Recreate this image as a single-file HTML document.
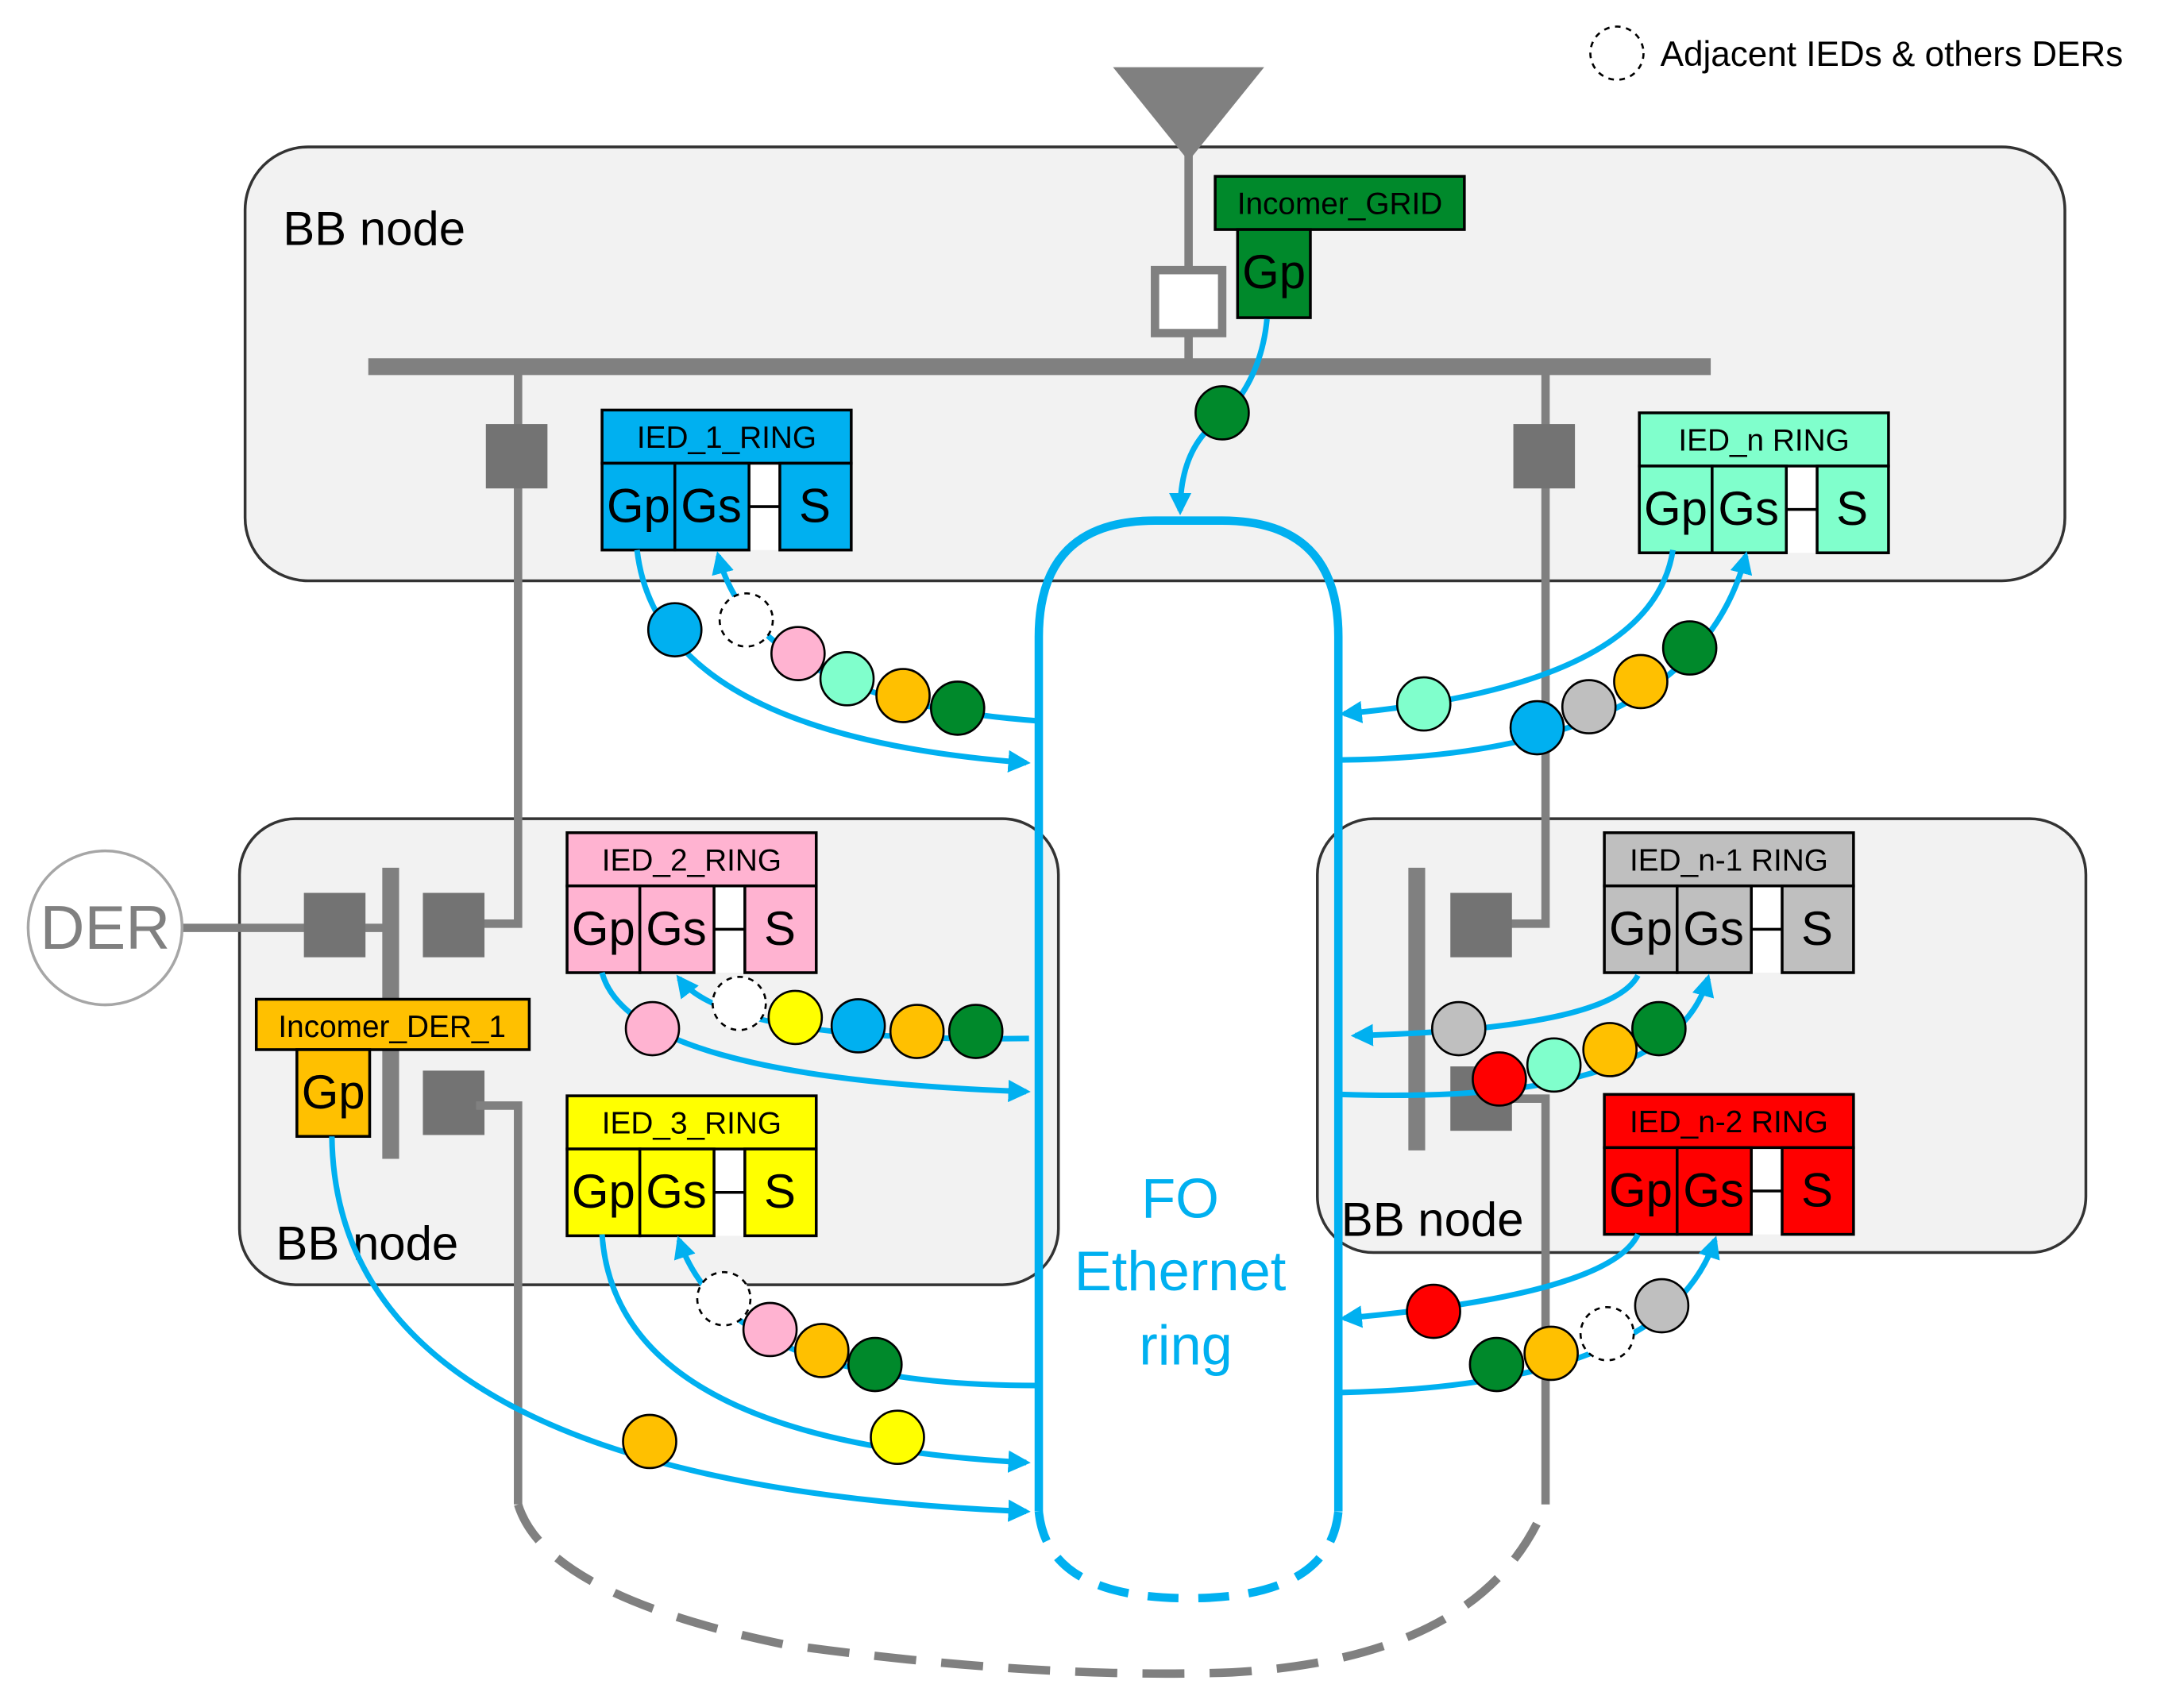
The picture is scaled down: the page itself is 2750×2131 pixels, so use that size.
<!DOCTYPE html>
<html><head><meta charset="utf-8"><style>
html,body{margin:0;padding:0;background:#fff;}
svg{display:block;}
text{font-family:"Liberation Sans",Arial,sans-serif;}
</style></head><body>
<svg width="2750" height="2131" viewBox="0 0 1560 1209" xmlns="http://www.w3.org/2000/svg">
<defs>
<marker id="a" viewBox="0 0 10 10" refX="8" refY="5" markerWidth="4" markerHeight="4" orient="auto"><path d="M0,0 L10,5 L0,10 z" fill="#00b0f0"/></marker>
</defs>
<rect width="1560" height="1209" fill="#fff"/>
<circle cx="1155" cy="38" r="19" fill="#fff" stroke="#000" stroke-width="1.5" stroke-dasharray="4,4"/>
<text x="1186" y="47" font-size="25" fill="#000">Adjacent IEDs &amp; others DERs</text>
<rect x="175" y="105" width="1300" height="310" rx="45" fill="#f2f2f2" stroke="#333" stroke-width="2"/>
<rect x="171" y="585" width="585" height="333" rx="40" fill="#f2f2f2" stroke="#333" stroke-width="2"/>
<rect x="941" y="585" width="549" height="310" rx="40" fill="#f2f2f2" stroke="#333" stroke-width="2"/>
<text x="202" y="175" font-size="34">BB node</text>
<text x="197" y="900" font-size="34">BB node</text>
<text x="958" y="883" font-size="34">BB node</text>
<polygon points="795,48 903,48 849,115" fill="#808080"/>
<line x1="849" y1="110" x2="849" y2="262" stroke="#808080" stroke-width="6"/>
<rect x="825" y="193" width="48" height="45" fill="#fff" stroke="#808080" stroke-width="6"/>
<line x1="263" y1="262" x2="1222" y2="262" stroke="#808080" stroke-width="12"/>
<polyline points="370,262 370,660 340,660" fill="none" stroke="#808080" stroke-width="6"/>
<polyline points="1104,262 1104,660 1075,660" fill="none" stroke="#808080" stroke-width="6"/>
<rect x="347" y="303" width="44" height="46" fill="#737373"/>
<rect x="1081" y="303" width="44" height="46" fill="#737373"/>
<line x1="130" y1="663" x2="279" y2="663" stroke="#808080" stroke-width="6"/>
<line x1="279" y1="620" x2="279" y2="828" stroke="#808080" stroke-width="12"/>
<rect x="217" y="638" width="44" height="46" fill="#737373"/>
<rect x="302" y="638" width="44" height="46" fill="#737373"/>
<rect x="302" y="765" width="44" height="46" fill="#737373"/>
<polyline points="340,790 370,790 370,1075" fill="none" stroke="#808080" stroke-width="6"/>
<path d="M370,1075 Q390,1140 560,1175 Q740,1200 880,1195 Q1060,1185 1104,1075" fill="none" stroke="#808080" stroke-width="6" stroke-dasharray="30,18"/>
<line x1="1012" y1="620" x2="1012" y2="822" stroke="#808080" stroke-width="12"/>
<rect x="1036" y="638" width="44" height="46" fill="#737373"/>
<rect x="1036" y="762" width="44" height="46" fill="#737373"/>
<polyline points="1075,785 1104,785 1104,1075" fill="none" stroke="#808080" stroke-width="6"/>
<circle cx="75" cy="663" r="55" fill="#fff" stroke="#a6a6a6" stroke-width="2"/>
<text x="75" y="678" font-size="44" fill="#808080" text-anchor="middle">DER</text>
<path d="M742,1080 V455 Q742,372 825,372 H873 Q956,372 956,455 V1080" fill="none" stroke="#00b0f0" stroke-width="6"/>
<path d="M742,1080 Q748,1142 849,1142 Q950,1142 956,1080" fill="none" stroke="#00b0f0" stroke-width="6" stroke-dasharray="22,14"/>
<text x="843" y="870" font-size="40" fill="#00b0f0" text-anchor="middle">FO</text>
<text x="843" y="922" font-size="40" fill="#00b0f0" text-anchor="middle">Ethernet</text>
<text x="847" y="975" font-size="40" fill="#00b0f0" text-anchor="middle">ring</text>
<g stroke="#000" stroke-width="2">
<rect x="868" y="126" width="178" height="38" fill="#00892b"/>
<rect x="884" y="164" width="52" height="63" fill="#00892b"/>
</g>
<text x="957" y="153" font-size="22" text-anchor="middle">Incomer_GRID</text>
<text x="910" y="206" font-size="34" text-anchor="middle">Gp</text>
<g stroke="#000" stroke-width="2">
<rect x="183" y="714" width="195" height="36" fill="#ffc000"/>
<rect x="212" y="750" width="52" height="62" fill="#ffc000"/>
</g>
<text x="280" y="741" font-size="22" text-anchor="middle">Incomer_DER_1</text>
<text x="238" y="792" font-size="34" text-anchor="middle">Gp</text>

<g transform="translate(430,293)">
<rect x="105" y="38" width="22" height="62" fill="#fff"/>
<rect x="0" y="0" width="178" height="38" fill="#00b0f0" stroke="#000" stroke-width="2"/>
<rect x="0" y="38" width="52" height="62" fill="#00b0f0" stroke="#000" stroke-width="2"/>
<rect x="52" y="38" width="53" height="62" fill="#00b0f0" stroke="#000" stroke-width="2"/>
<line x1="105" y1="69" x2="127" y2="69" stroke="#000" stroke-width="2"/>
<rect x="127" y="38" width="51" height="62" fill="#00b0f0" stroke="#000" stroke-width="2"/>
<text x="89" y="27" font-size="22" text-anchor="middle">IED_1_RING</text>
<text x="26" y="80" font-size="34" text-anchor="middle">Gp</text>
<text x="78" y="80" font-size="34" text-anchor="middle">Gs</text>
<text x="152" y="80" font-size="34" text-anchor="middle">S</text>
</g>
<g transform="translate(1171,295)">
<rect x="105" y="38" width="22" height="62" fill="#fff"/>
<rect x="0" y="0" width="178" height="38" fill="#80ffcc" stroke="#000" stroke-width="2"/>
<rect x="0" y="38" width="52" height="62" fill="#80ffcc" stroke="#000" stroke-width="2"/>
<rect x="52" y="38" width="53" height="62" fill="#80ffcc" stroke="#000" stroke-width="2"/>
<line x1="105" y1="69" x2="127" y2="69" stroke="#000" stroke-width="2"/>
<rect x="127" y="38" width="51" height="62" fill="#80ffcc" stroke="#000" stroke-width="2"/>
<text x="89" y="27" font-size="22" text-anchor="middle">IED_n RING</text>
<text x="26" y="80" font-size="34" text-anchor="middle">Gp</text>
<text x="78" y="80" font-size="34" text-anchor="middle">Gs</text>
<text x="152" y="80" font-size="34" text-anchor="middle">S</text>
</g>
<g transform="translate(405,595)">
<rect x="105" y="38" width="22" height="62" fill="#fff"/>
<rect x="0" y="0" width="178" height="38" fill="#ffb3d1" stroke="#000" stroke-width="2"/>
<rect x="0" y="38" width="52" height="62" fill="#ffb3d1" stroke="#000" stroke-width="2"/>
<rect x="52" y="38" width="53" height="62" fill="#ffb3d1" stroke="#000" stroke-width="2"/>
<line x1="105" y1="69" x2="127" y2="69" stroke="#000" stroke-width="2"/>
<rect x="127" y="38" width="51" height="62" fill="#ffb3d1" stroke="#000" stroke-width="2"/>
<text x="89" y="27" font-size="22" text-anchor="middle">IED_2_RING</text>
<text x="26" y="80" font-size="34" text-anchor="middle">Gp</text>
<text x="78" y="80" font-size="34" text-anchor="middle">Gs</text>
<text x="152" y="80" font-size="34" text-anchor="middle">S</text>
</g>
<g transform="translate(405,783)">
<rect x="105" y="38" width="22" height="62" fill="#fff"/>
<rect x="0" y="0" width="178" height="38" fill="#ffff00" stroke="#000" stroke-width="2"/>
<rect x="0" y="38" width="52" height="62" fill="#ffff00" stroke="#000" stroke-width="2"/>
<rect x="52" y="38" width="53" height="62" fill="#ffff00" stroke="#000" stroke-width="2"/>
<line x1="105" y1="69" x2="127" y2="69" stroke="#000" stroke-width="2"/>
<rect x="127" y="38" width="51" height="62" fill="#ffff00" stroke="#000" stroke-width="2"/>
<text x="89" y="27" font-size="22" text-anchor="middle">IED_3_RING</text>
<text x="26" y="80" font-size="34" text-anchor="middle">Gp</text>
<text x="78" y="80" font-size="34" text-anchor="middle">Gs</text>
<text x="152" y="80" font-size="34" text-anchor="middle">S</text>
</g>
<g transform="translate(1146,595)">
<rect x="105" y="38" width="22" height="62" fill="#fff"/>
<rect x="0" y="0" width="178" height="38" fill="#bfbfbf" stroke="#000" stroke-width="2"/>
<rect x="0" y="38" width="52" height="62" fill="#bfbfbf" stroke="#000" stroke-width="2"/>
<rect x="52" y="38" width="53" height="62" fill="#bfbfbf" stroke="#000" stroke-width="2"/>
<line x1="105" y1="69" x2="127" y2="69" stroke="#000" stroke-width="2"/>
<rect x="127" y="38" width="51" height="62" fill="#bfbfbf" stroke="#000" stroke-width="2"/>
<text x="89" y="27" font-size="22" text-anchor="middle">IED_n-1 RING</text>
<text x="26" y="80" font-size="34" text-anchor="middle">Gp</text>
<text x="78" y="80" font-size="34" text-anchor="middle">Gs</text>
<text x="152" y="80" font-size="34" text-anchor="middle">S</text>
</g>
<g transform="translate(1146,782)">
<rect x="105" y="38" width="22" height="62" fill="#fff"/>
<rect x="0" y="0" width="178" height="38" fill="#ff0000" stroke="#000" stroke-width="2"/>
<rect x="0" y="38" width="52" height="62" fill="#ff0000" stroke="#000" stroke-width="2"/>
<rect x="52" y="38" width="53" height="62" fill="#ff0000" stroke="#000" stroke-width="2"/>
<line x1="105" y1="69" x2="127" y2="69" stroke="#000" stroke-width="2"/>
<rect x="127" y="38" width="51" height="62" fill="#ff0000" stroke="#000" stroke-width="2"/>
<text x="89" y="27" font-size="22" text-anchor="middle">IED_n-2 RING</text>
<text x="26" y="80" font-size="34" text-anchor="middle">Gp</text>
<text x="78" y="80" font-size="34" text-anchor="middle">Gs</text>
<text x="152" y="80" font-size="34" text-anchor="middle">S</text>
</g>
<g fill="none" stroke="#00b0f0" stroke-width="4" marker-end="url(#a)">
<path d="M905,228 Q900,280 860,310 Q843,330 843,365"/>
<path d="M455,393 Q470,525 733,545"/>
<path d="M740,515 Q540,500 513,397"/>
<path d="M1195,393 Q1180,490 960,510"/>
<path d="M958,543 Q1210,540 1247,397"/>
<path d="M430,695 Q450,770 733,780"/>
<path d="M735,742 Q520,745 485,699"/>
<path d="M430,882 Q440,1030 733,1045"/>
<path d="M740,990 Q520,990 485,886"/>
<path d="M237,812 Q240,1060 733,1080"/>
<path d="M1170,697 Q1150,735 968,740"/>
<path d="M958,782 Q1195,790 1220,699"/>
<path d="M1170,882 Q1150,925 960,942"/>
<path d="M958,995 Q1190,990 1225,886"/>
</g>
<g stroke="#000" stroke-width="1.5">
<circle cx="873" cy="295" r="19" fill="#00892b"/>
<circle cx="482" cy="450" r="19" fill="#00b0f0"/>
<circle cx="533" cy="443" r="19" fill="#fff" stroke-dasharray="4,4"/>
<circle cx="570" cy="467" r="19" fill="#ffb3d1"/>
<circle cx="605" cy="485" r="19" fill="#80ffcc"/>
<circle cx="645" cy="497" r="19" fill="#ffc000"/>
<circle cx="684" cy="506" r="19" fill="#00892b"/>
<circle cx="1017" cy="503" r="19" fill="#80ffcc"/>
<circle cx="1098" cy="520" r="19" fill="#00b0f0"/>
<circle cx="1135" cy="505" r="19" fill="#bfbfbf"/>
<circle cx="1172" cy="487" r="19" fill="#ffc000"/>
<circle cx="1207" cy="463" r="19" fill="#00892b"/>
<circle cx="466" cy="735" r="19" fill="#ffb3d1"/>
<circle cx="528" cy="717" r="19" fill="#fff" stroke-dasharray="4,4"/>
<circle cx="568" cy="727" r="19" fill="#ffff00"/>
<circle cx="613" cy="733" r="19" fill="#00b0f0"/>
<circle cx="655" cy="737" r="19" fill="#ffc000"/>
<circle cx="697" cy="737" r="19" fill="#00892b"/>
<circle cx="517" cy="928" r="19" fill="#fff" stroke-dasharray="4,4"/>
<circle cx="550" cy="950" r="19" fill="#ffb3d1"/>
<circle cx="587" cy="965" r="19" fill="#ffc000"/>
<circle cx="625" cy="975" r="19" fill="#00892b"/>
<circle cx="641" cy="1027" r="19" fill="#ffff00"/>
<circle cx="464" cy="1030" r="19" fill="#ffc000"/>
<circle cx="1042" cy="735" r="19" fill="#bfbfbf"/>
<circle cx="1071" cy="771" r="19" fill="#ff0000"/>
<circle cx="1110" cy="761" r="19" fill="#80ffcc"/>
<circle cx="1150" cy="750" r="19" fill="#ffc000"/>
<circle cx="1185" cy="735" r="19" fill="#00892b"/>
<circle cx="1024" cy="937" r="19" fill="#ff0000"/>
<circle cx="1069" cy="975" r="19" fill="#00892b"/>
<circle cx="1108" cy="967" r="19" fill="#ffc000"/>
<circle cx="1148" cy="953" r="19" fill="#fff" stroke-dasharray="4,4"/>
<circle cx="1187" cy="933" r="19" fill="#bfbfbf"/>
</g>
</svg>
</body></html>
